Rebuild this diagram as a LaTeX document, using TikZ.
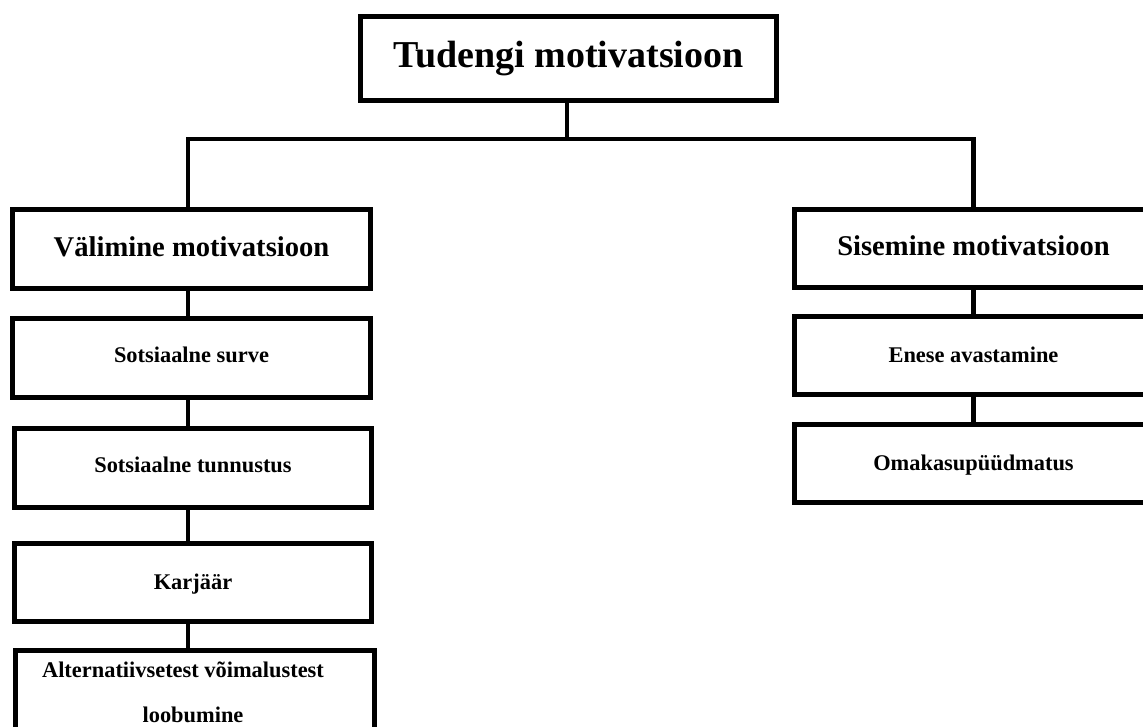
\documentclass[tikz,border=0pt]{standalone}
\usepackage{fontspec}
\setmainfont{Liberation Serif}
\begin{document}
\begin{tikzpicture}[x=1pt,y=-1pt,
  lw/.style={line width=4.6pt},
  box/.style={draw=black, lw, rectangle, inner sep=0pt, minimum width=358pt, font=\bfseries},
  big/.style={box, text height=26.6pt, text depth=7.6pt, font=\fontsize{38}{42}\selectfont\bfseries},
  mid/.style={box, minimum height=79pt, text height=20pt, text depth=5.7pt, font=\fontsize{28.6}{32}\selectfont\bfseries},
  small/.style={box, minimum height=79pt, text height=15.7pt, text depth=4.5pt, font=\fontsize{22.4}{26}\selectfont\bfseries},
  lower/.style={text depth=2.5pt},
  higher/.style={text depth=7pt},
  plain/.style={inner sep=0pt, font=\fontsize{22.4}{26}\selectfont\bfseries},
  conn/.style={draw=black, lw, line join=miter, line cap=butt}]
\useasboundingbox (0,0) rectangle (1143,727);
\clip (0,0) rectangle (1143,727);
\fill[white] (0,0) rectangle (1143,727);

% top
\node[big, minimum width=416pt, minimum height=84pt] (top) at (568.5,58.5) {Tudengi motivatsioon};

% left column
\node[mid] (vm) at (191.5,249) {Välimine motivatsioon};
\node[small, higher] (ss) at (191.5,358) {Sotsiaalne surve};
\node[small, higher, minimum width=357pt] (st) at (193,468) {Sotsiaalne tunnustus};
\node[small, lower, minimum width=357pt, minimum height=78pt] (ka) at (193,582.5) {Karjäär};
\node[box, minimum width=359pt, minimum height=100pt, anchor=north] (alt) at (195,648) {};
\node[plain, anchor=base] (alt1) at (183,677) {Alternatiivsetest võimalustest};
\node[plain, anchor=base] (alt2) at (193,722) {loobumine};

% right column
\node[mid, minimum height=78pt] (sm) at (973.5,248.5) {Sisemine motivatsioon};
\node[small, lower, minimum height=78pt] (ea) at (973.5,355.5) {Enese avastamine};
\node[small, lower, minimum height=78pt] (om) at (973.5,463.5) {Omakasupüüdmatus};

% connectors
\coordinate (hub) at (567,139);
\coordinate (lx) at (188,0);
\draw[conn] (top.south -| hub) -- (hub);
\draw[conn] (vm.north -| lx) |- (hub) -| (sm.north);
\draw[conn] (vm.south -| lx) -- (ss.north -| lx);
\draw[conn] (ss.south -| lx) -- (st.north -| lx);
\draw[conn] (st.south -| lx) -- (ka.north -| lx);
\draw[conn] (ka.south -| lx) -- (alt.north -| lx);
\draw[conn] (sm.south) -- (ea.north);
\draw[conn] (ea.south) -- (om.north);
\end{tikzpicture}
\end{document}
